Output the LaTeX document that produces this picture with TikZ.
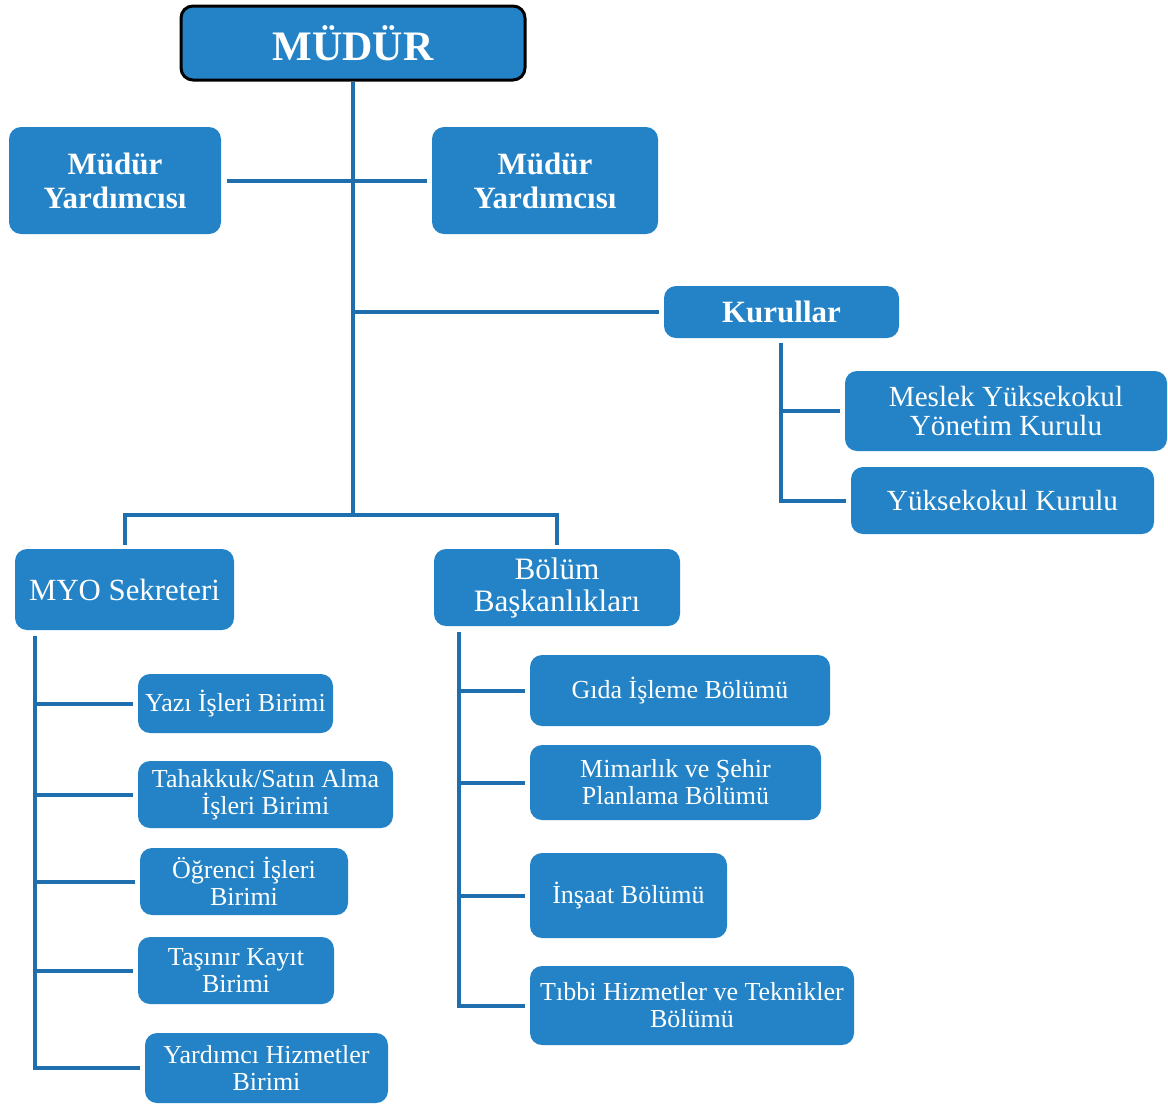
\documentclass[tikz,border=0pt]{standalone}
\usepackage{fontspec}
\setmainfont{Liberation Serif}
\usepackage{tikz}
\usetikzlibrary{calc}
\definecolor{boxblue}{RGB}{35,131,198}
\definecolor{lineblue}{RGB}{31,111,174}
\tikzset{wh/.style 2 args={minimum width=#1pt, minimum height=#2pt}}

\begin{document}
\begin{tikzpicture}[x=0.5pt, y=-0.5pt,
  box/.style={fill=boxblue, text=white, rounded corners=6pt, inner sep=0pt, align=center, font=\fontsize{13}{13.5}\selectfont},
  bbox/.style={box, font=\bfseries\fontsize{15.5}{17}\selectfont},
  conn/.style={draw=lineblue, line width=2pt}]
\useasboundingbox (0,0) rectangle (1168,1104);

% top
\node[box, wh={172}{37}, draw=black, line width=1.5pt, font=\bfseries\fontsize{21}{23}\selectfont, name=mudur] at (353,43) {MÜDÜR};
\node[bbox, wh={106}{53.5}, name=yrd1] at (115,180.5) {Müdür\\Yardımcısı};
\node[bbox, wh={113}{53.5}, name=yrd2] at (545,180.5) {Müdür\\Yardımcısı};
\node[bbox, wh={117.5}{26}, name=kurullar] at (781.5,312) {Kurullar};
\node[box, wh={161}{40}, font=\fontsize{14.6}{14.6}\selectfont, name=kyk] at (1006,411) {Meslek Yüksekokul\\Yönetim Kurulu};
\node[box, wh={151.5}{33.5}, font=\fontsize{14.6}{14.6}\selectfont, name=ykk] at (1002.5,500.5) {Yüksekokul Kurulu};

% second level
\node[box, wh={109.5}{40.5}, font=\fontsize{15.4}{16}\selectfont, name=myo] at (124.5,589.5) {MYO Sekreteri};
\node[box, wh={123}{38.5}, font=\fontsize{15.6}{16}\selectfont, name=bolum] at (557,587.5) {Bölüm\\Başkanlıkları};

% MYO units
\node[box, wh={97.5}{29.5}, name=yazi] at (235.5,703.5) {Yazı İşleri Birimi};
\node[box, wh={127.5}{33.5}, name=tahakkuk] at (265.5,794.5) {Tahakkuk/Satın Alma\\İşleri Birimi};
\node[box, wh={104}{33.5}, name=ogrenci] at (244,881.5) {Öğrenci İşleri\\Birimi};
\node[box, wh={98}{33.5}, name=tasinir] at (236,970.5) {Taşınır Kayıt\\Birimi};
\node[box, wh={121.5}{35}, name=yardimci] at (266.5,1068) {Yardımcı Hizmetler\\Birimi};

% departments
\node[box, wh={150}{35.5}, name=gida] at (680,690.5) {Gıda İşleme Bölümü};
\node[box, wh={145.5}{37.5}, name=mimarlik] at (675.5,782.5) {Mimarlık ve Şehir\\Planlama Bölümü};
\node[box, wh={98.5}{42.5}, name=insaat] at (628.5,895.5) {İnşaat Bölümü};
\node[box, wh={162}{39.5}, name=tibbi] at (692,1005.5) {Tıbbi Hizmetler ve Teknikler\\Bölümü};

% connectors
\coordinate (bus) at (353,515);
\draw[conn] (mudur.south) -- (bus);
\draw[conn] ([xshift=3pt]yrd1.east) -- ([xshift=-2.5pt]yrd2.west);
\draw[conn] (mudur.south |- kurullar.west) -- ([xshift=-2.5pt]kurullar.west);
\draw[conn] ([yshift=2pt]myo.north) |- (bolum.north |- bus) -- ([yshift=2pt]bolum.north);

\coordinate (kt) at (781,343);
\foreach \n in {kyk,ykk}
  \draw[conn] (kt) |- ([xshift=-2.5pt]\n.west);

\coordinate (mt) at (35,636);
\foreach \n in {yazi,tahakkuk,ogrenci,tasinir,yardimci}
  \draw[conn] (mt) |- ([xshift=-2.5pt]\n.west);

\coordinate (bt) at (459,632);
\foreach \n in {gida,mimarlik,insaat,tibbi}
  \draw[conn] (bt) |- ([xshift=-2.5pt]\n.west);

\end{tikzpicture}
\end{document}
